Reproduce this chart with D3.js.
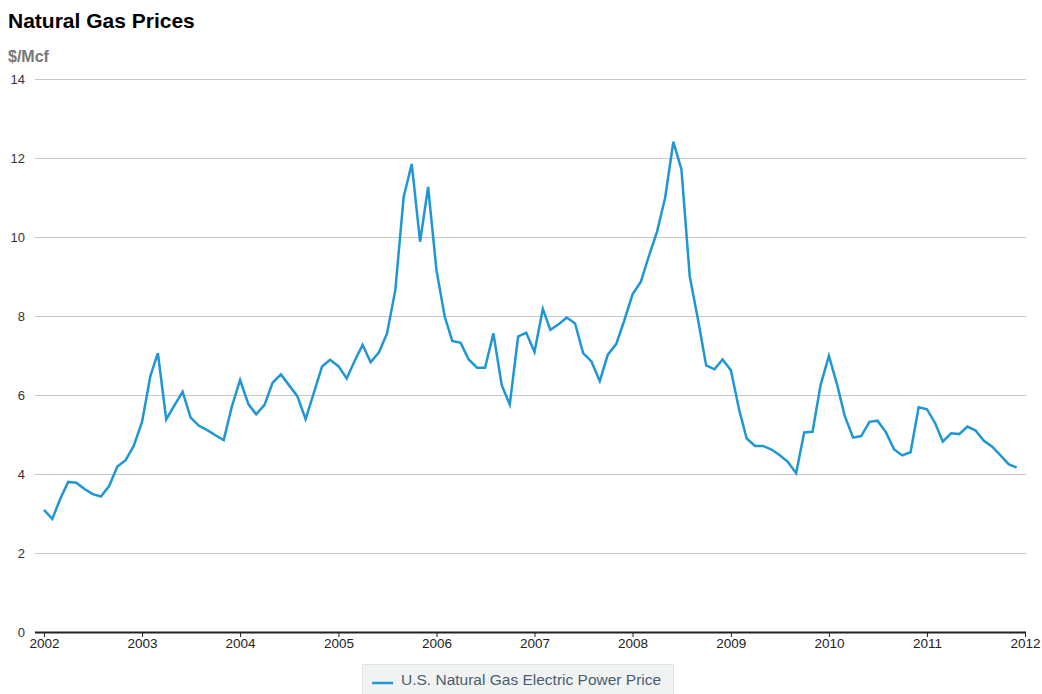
<!DOCTYPE html>
<html>
<head>
<meta charset="utf-8">
<script src="https://cdn.jsdelivr.net/npm/d3@7"></script>
<style>
  html, body { margin: 0; padding: 0; background: #fff; }
  svg { display: block; font-family: "Liberation Sans", Arial, Helvetica, sans-serif; }
</style>
</head>
<body>
<svg id="chart" width="1042" height="694"></svg>
<script>
const title = "Natural Gas Prices";
const unitLabel = "$/Mcf";
const seriesName = "U.S. Natural Gas Electric Power Price";
const startYear = 2002;
const yearTicks = [2002, 2003, 2004, 2005, 2006, 2007, 2008, 2009, 2010, 2011, 2012];
const yTicks = [0, 2, 4, 6, 8, 10, 12, 14];
const prices2002 = [3.09, 2.86, 3.35, 3.80, 3.78, 3.62, 3.49, 3.43, 3.70, 4.19, 4.35, 4.71];
const prices2003 = [5.32, 6.48, 7.06, 5.38, 5.73, 6.08, 5.43, 5.22, 5.11, 4.98, 4.86, 5.70];
const prices2004 = [6.38, 5.77, 5.51, 5.75, 6.31, 6.52, 6.25, 5.97, 5.39, 6.04, 6.72, 6.89];
const prices2005 = [6.73, 6.42, 6.84, 7.27, 6.83, 7.08, 7.56, 8.66, 11.02, 11.85, 9.88, 11.27];
const prices2006 = [9.16, 7.98, 7.37, 7.32, 6.90, 6.69, 6.69, 7.56, 6.25, 5.76, 7.48, 7.58];
const prices2007 = [7.09, 8.18, 7.65, 7.79, 7.96, 7.81, 7.06, 6.85, 6.35, 7.02, 7.29, 7.88];
const prices2008 = [8.55, 8.87, 9.50, 10.13, 10.98, 12.41, 11.71, 9.00, 7.90, 6.75, 6.65, 6.90];
const prices2009 = [6.63, 5.62, 4.90, 4.71, 4.71, 4.62, 4.48, 4.31, 4.02, 5.05, 5.07, 6.25];
const prices2010 = [6.99, 6.25, 5.47, 4.92, 4.96, 5.32, 5.35, 5.06, 4.62, 4.47, 4.55, 5.69];
const prices2011 = [5.64, 5.28, 4.82, 5.03, 5.01, 5.20, 5.10, 4.84, 4.69, 4.48, 4.25, 4.16];

const allPrices = [].concat(prices2002, prices2003, prices2004, prices2005, prices2006,
  prices2007, prices2008, prices2009, prices2010, prices2011);
const data = allPrices.map((v, i) => ({
  date: new Date(startYear + Math.floor(i / 12), i % 12, 1),
  value: v
}));

const svg = d3.select("#chart");
const x = d3.scaleTime()
  .domain([new Date(2002, 0, 1), new Date(2012, 0, 1)])
  .range([44, 1025]);
const y = d3.scaleLinear().domain([0, 14]).range([632, 79]);

// title
svg.append("text").attr("x", 8).attr("y", 28)
  .attr("font-size", 21).attr("font-weight", "bold").attr("fill", "#000")
  .text(title);
svg.append("text").attr("x", 8).attr("y", 62)
  .attr("font-size", 16).attr("font-weight", "bold").attr("fill", "#777")
  .text(unitLabel);

// gridlines + y labels
const yAxis = d3.axisLeft(y).tickValues(yTicks).tickSize(-(1026 - 35)).tickPadding(10);
const gy = svg.append("g").attr("transform", "translate(35,0)").call(yAxis);
gy.select(".domain").remove();
gy.selectAll(".tick line").attr("stroke", "#c8c8c8").attr("stroke-width", 1)
  .attr("opacity", d => d === 0 ? 0 : 1);
gy.selectAll(".tick text").attr("font-size", 13).attr("fill", "#333")
  .attr("font-family", "Liberation Sans, Arial, sans-serif");

// x axis
const xAxis = d3.axisBottom(x)
  .tickValues(yearTicks.map(yr => new Date(yr, 0, 1)))
  .tickFormat(d3.timeFormat("%Y"))
  .tickSize(5).tickSizeOuter(0).tickPadding(1);
const gx = svg.append("g").attr("transform", "translate(0,632)").call(xAxis);
gx.select(".domain").attr("d", "M35,0.5H1026").attr("stroke", "#222").attr("stroke-width", 2);
gx.selectAll(".tick line").attr("stroke", "#222");
gx.selectAll(".tick text").attr("font-size", 13.5).attr("fill", "#222")
  .attr("font-family", "Liberation Sans, Arial, sans-serif");

// line
const line = d3.line().x(d => x(d.date)).y(d => y(d.value));
svg.append("path").datum(data)
  .attr("fill", "none").attr("stroke", "#1f96d5").attr("stroke-width", 2.5)
  .attr("stroke-linejoin", "miter")
  .attr("d", line);

// legend
const lg = svg.append("g");
lg.append("rect").attr("x", 362.5).attr("y", 664.5).attr("width", 311).attr("height", 40)
  .attr("fill", "#f1f3f3").attr("stroke", "#e2e4e4");
lg.append("line").attr("x1", 372).attr("x2", 393).attr("y1", 683).attr("y2", 683)
  .attr("stroke", "#1f96d5").attr("stroke-width", 2.5);
lg.append("text").attr("x", 401).attr("y", 685)
  .attr("font-size", 15.5).attr("fill", "#4b5d70")
  .text(seriesName);
</script>
</body>
</html>
